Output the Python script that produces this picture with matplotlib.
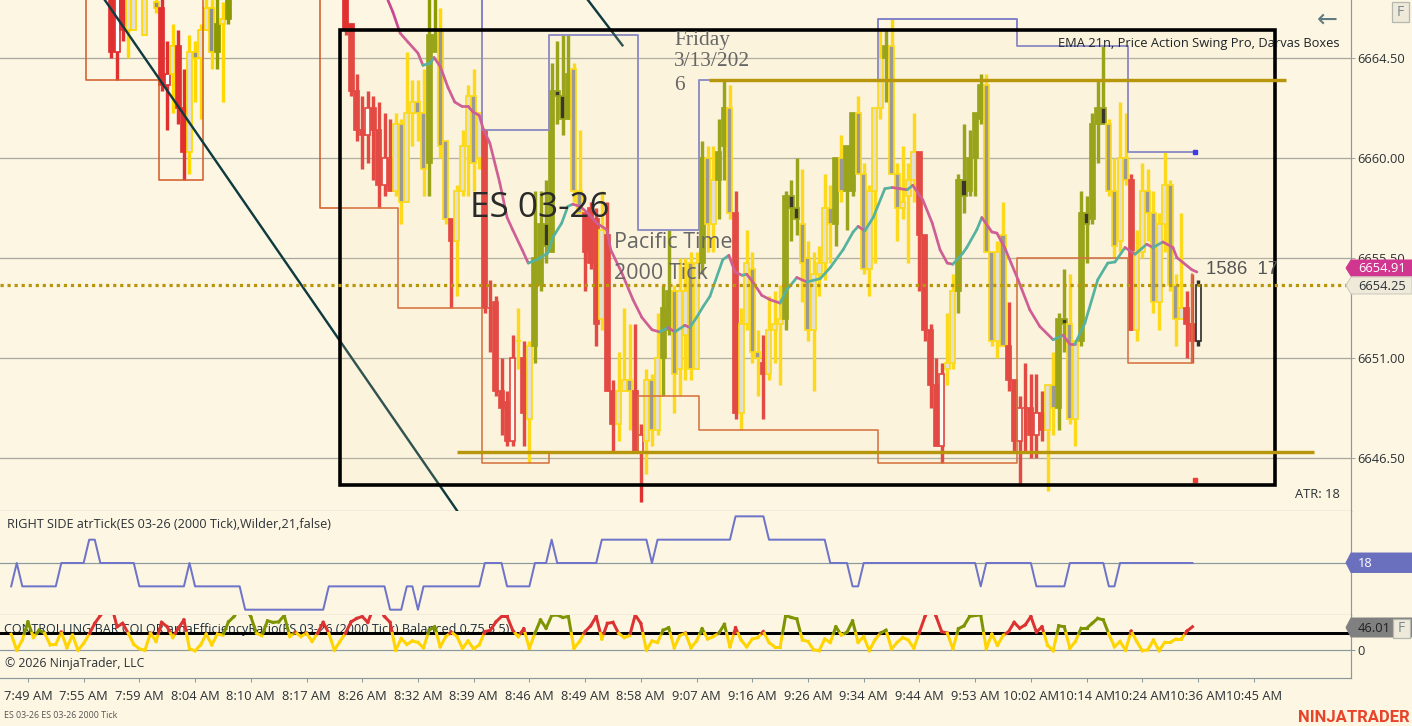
import numpy as np
import matplotlib
matplotlib.use('Agg')
import matplotlib.pyplot as plt
from matplotlib.patches import Polygon, Rectangle

W, H = 1412, 726
PRICE_BASE = 6640

# candles: prices are offsets from PRICE_BASE, 28 means above the visible range
bar_idx = [15, 16, 17, 18, 19, 21, 23, 24, 25, 26, 27, 28, 29, 30, 31, 32, 33, 34, 35, 36] + list(range(57, 211))
bar_kind = ("RHRYYYDRHYRRYDYYDGYG"
            "RRRRHRRHRY" "DYYDDGGDDR" "YYYDYRRRRR" "HYRYGGBGBB" "GDDRRRYRRY"
            "YDRHYDYGGD" "YYDYGDYGGD" "RYYDDRYYYG" "BBDDYYYDGD" "GGDDYYYGDD"
            "YYYRRRRHYY" "GBGGGDDYDR" "RHRRHRYDGB" "DYGBGGBDDY" "DRYYDDYYDD" "YRRK")
bar_high = [28, 28, 28, 28, 28, 28, 28, 28, 25.25, 26, 25.75, 24, 25.5, 25.25, 26, 28, 28, 28, 27, 28,
            28, 26, 23.75, 22.75, 23, 22.75, 22.5, 22, 21.75, 22,
            21.75, 24.75, 23.5, 23.5, 24, 28, 28, 26.75, 20.75, 17.25,
            18.75, 21.25, 23.25, 24, 22, 21.25, 14.5, 13.75, 11, 9.5,
            12, 13.25, 11.75, 11.75, 18.5, 18.5, 19, 24.25, 25.25, 25.5,
            25.5, 24.25, 21.25, 17.5, 18, 17.75, 18.5, 18, 10, 11.25,
            13.25, 12.5, 12.5, 8, 10.5, 10.25, 13, 14.25, 16.75, 14.25,
            15.5, 15.5, 15.75, 15.75, 20.75, 20.5, 20.5, 21.75, 23.5, 23.25,
            18.5, 13.25, 16.75, 15.75, 12.25, 12, 13.75, 14, 14.25, 18.5,
            19, 20, 19.5, 16.25, 15.75, 16, 19.25, 18.75, 20, 21,
            20.5, 22, 22.75, 19.75, 18.75, 22.25, 25.75, 25.75, 26.25, 19.75,
            20.5, 19.75, 22, 20.25, 16.5, 12.5, 11, 10.75, 13, 14.75,
            19.25, 21.5, 21.25, 22, 23.75, 23.75, 15.75, 16.25, 18, 13.5,
            10, 9.25, 10.75, 10.25, 10.25, 9.5, 9.75, 11.25, 13, 15,
            14.75, 11.75, 18.5, 18.25, 22, 23.5, 25, 21.75, 20, 22.5,
            22, 19.25, 16.75, 19.75, 19.5, 18.5, 17.5, 20.25, 19, 14.75,
            17.5, 14, 14.75, 14.5]
bar_top = [28, 28, 28, 28, 28, 28, 27, 26.75, 23.75, 25, 25, 22.25, 24.75, 24.75, 25.75, 26.75, 26.75, 26, 26.25, 28,
           28, 26, 23, 21.25, 22.25, 22.25, 21.25, 20, 20, 21.5,
           21.5, 22, 22.5, 22.5, 22, 25.5, 25.5, 25.75, 20.75, 17.25,
           18.5, 20.5, 22.75, 22.75, 22, 21.25, 13.25, 13.5, 9.5, 9,
           11, 11.75, 11, 11.5, 15.5, 17, 17, 23, 23, 22.75,
           23.75, 24, 18.5, 17.5, 17.75, 17.25, 16.75, 16.5, 9.5, 9.5,
           10, 10, 9.5, 7.5, 10, 10, 11, 13.25, 14, 14,
           14, 14, 15.25, 15.25, 20, 20, 19, 20.25, 22.25, 22.25,
           17.5, 12.5, 15.25, 15, 11.25, 10.75, 12.25, 12.5, 12.75, 18.25,
           18.25, 17.75, 17, 15.5, 14.75, 15.25, 17.75, 17.75, 20, 20,
           20.5, 22, 22, 19.25, 18.5, 22.25, 24.5, 25, 25, 19.25,
           18, 19, 20.25, 20.25, 16.5, 12.25, 9.75, 10.25, 10.75, 14,
           19, 19, 20, 22, 23.25, 23.25, 15.75, 15.75, 16.5, 11.5,
           10, 8.75, 8.75, 8.75, 8.5, 8.5, 9.75, 9.75, 12.75, 12.75,
           12.5, 11.75, 17.5, 17.5, 21.5, 22.25, 22.25, 21.5, 18.5, 20,
           20, 19, 15.75, 18.5, 18.5, 17.5, 17, 18.75, 18.75, 14.25,
           13.25, 13.25, 12.5, 14.25]
bar_bot = [24.75, 24.75, 25.75, 25.75, 25.75, 25.5, 26.75, 23.25, 23.25, 23.75, 22.25, 20.25, 20.25, 24.5, 24.5, 25.75, 24.75, 24.75, 26, 26.25,
           25.75, 23, 21.25, 21, 21, 21.25, 18.75, 18.75, 18.5, 18.5,
           18, 18, 22, 22, 19.5, 19.75, 24.75, 20.5, 17.25, 16.25,
           16.25, 18.5, 20.5, 19.75, 20, 13.25, 13.25, 9.5, 8.75, 7.25,
           7.25, 11.75, 8.5, 8.25, 11.5, 14.25, 16, 15.75, 22.75, 21.75,
           21.75, 18.5, 17.5, 15.75, 15.25, 12.5, 12.75, 9.5, 8, 8,
           9.5, 9.5, 6.75, 6.75, 7.25, 7.75, 7.75, 11, 12.25, 10.25,
           10.5, 12, 10.5, 10.5, 15.25, 17, 17, 19, 20.5, 17.5,
           8.5, 8.5, 12.5, 11.25, 11, 10.25, 10.25, 12.25, 12.5, 12.75,
           17.75, 17.25, 15.25, 12.25, 12.25, 14.75, 15.25, 17, 17, 18.5,
           18.5, 18.5, 19.25, 15, 15, 18.5, 22.25, 24.5, 19.25, 17.75,
           17.75, 18.25, 19, 16.5, 12.25, 9.75, 7, 7, 10.5, 10.75,
           14, 18.25, 18.5, 20, 21.75, 15.75, 11.75, 11.75, 11.5, 10,
           7.25, 7.25, 8.75, 7.5, 7.5, 7.75, 7.75, 8.75, 8.75, 12.5,
           8.25, 8.25, 11.75, 17, 17.25, 21.5, 21.5, 18.5, 16, 16.25,
           19, 12.25, 12.25, 15.75, 17.5, 13.5, 13.5, 17, 14.25, 12.75,
           12.75, 12.5, 11.75, 11.75]
bar_low = [24.5, 23.5, 25.25, 24.5, 25.75, 25.5, 26.5, 23, 21.25, 22, 21.5, 19, 19.25, 22.5, 21.75, 25.75, 24, 24, 22.5, 26,
           25.5, 22.75, 20.75, 19.5, 19.75, 19, 17.75, 18.25, 18.5, 18.25,
           17, 18, 20.5, 20.75, 18.25, 18.25, 24.75, 20, 17, 13.25,
           13.75, 18.25, 18.25, 18.5, 19.5, 13, 11.25, 9.25, 7.5, 7,
           7, 10.5, 7, 6.25, 10.75, 14, 15.25, 15.75, 21.5, 21,
           21.75, 18, 17.5, 14, 15, 11.5, 12.25, 9.5, 6.75, 7.25,
           9.5, 7.75, 6.75, 4.5, 5.75, 7, 7.5, 9.25, 12, 8.5,
           9.25, 10, 10, 10.5, 14.75, 15.75, 15.75, 17.25, 19, 17.25,
           8.25, 7.75, 12.25, 10.75, 9.25, 8.25, 10, 10.75, 9.75, 12.25,
           16.25, 16.5, 13.5, 11.75, 9.5, 13.75, 14.5, 15.25, 16, 18,
           16.75, 18.25, 19.25, 14.75, 13.75, 15.25, 21.75, 22.5, 19.25, 16.25,
           17.25, 15.25, 18, 14, 11.75, 8.75, 7, 6.25, 9.75, 10.5,
           13, 17.5, 18.25, 18.25, 21.5, 15.75, 11.5, 11, 11.5, 9.5,
           6.75, 5.25, 6.75, 6.5, 6.5, 7.25, 5, 7.5, 7.75, 11.25,
           8, 7, 11.5, 15.25, 17, 19.75, 21.5, 18.25, 15.5, 15.75,
           18.75, 12.25, 11.75, 15.5, 16.25, 13, 12.25, 15.75, 14, 11.5,
           12.75, 11, 10.75, 11.5]
assert len(bar_idx) == len(bar_kind) == len(bar_high) == len(bar_top) == len(bar_bot) == len(bar_low)

ema_bars = [64.6, 65.5, 66.8, 68.2, 70, 70.9, 72.2, 72.9, 74, 75.4, 76.6, 77.9, 79, 79.9, 81, 81.7, 82.9, 84.7,
            86, 87, 88.7, 89.8, 91.4, 93.3, 94.2, 95.8, 96.9, 97.8, 99.1, 100.5, 102.1, 103.9, 104.6, 106.6,
            108.6, 110.2, 112, 113.4, 114.9, 116.1, 117.9, 118.8, 120, 121.2, 122.4, 124.7, 125.8, 126.9,
            128.2, 129, 130.1, 131.7, 133.2, 135, 136.2, 138, 139.8, 142.2, 144, 146.3, 148.1, 149, 150.2,
            151.7, 153.8, 155.1, 156.5, 157.8, 158.8, 160.6, 162.3, 163.7, 165, 166, 167.8, 168.5, 170.3,
            171.2, 173, 173.9, 175.3, 177.7, 179.8, 181.6, 184, 185.8, 187, 187.9, 189.7, 192, 193.8, 195.1,
            196.9, 198.7, 200.8, 201.9, 203.7, 205.5, 206.2, 208.9, 209.8]
ema_vals = [27.09, 26.55, 25.6, 25.2, 24.7, 24.15, 24.25, 24.5, 24.1, 23.15, 22.5, 22.3, 22.3, 22.05, 21.9, 21.3, 20.65, 18.85,
            17.3, 16.75, 15.85, 15.25, 15.4, 15.7, 16.4, 17.05, 17.8, 17.9, 17.8, 17.5, 17.05, 16.75, 15.85, 14.8,
            13.6, 12.8, 12.25, 12.15, 12.35, 12.15, 12.45, 12.35, 12.8, 13.3, 13.75, 15.4, 15.6, 14.85,
            14.7, 14.75, 14.4, 13.8, 13.6, 13.45, 14.05, 14.6, 14.4, 14.55, 15.05, 15.85, 16.65, 16.9, 16.7,
            17.3, 18.6, 18.65, 18.6, 18.55, 18.75, 18.1, 17.05, 15.85, 15.25, 15.2, 15.7, 15.95, 16.75,
            17.3, 16.65, 16.6, 15.95, 14.5, 13.15, 12.4, 11.8, 12, 11.6, 11.6, 12.55, 14.5, 15.25, 15.3,
            15.95, 15.65, 16.1, 15.95, 16.2, 15.95, 15.5, 14.95, 14.85]

# darvas boxes and swing line, as (bar, price offset) corners
darvas_a_x = [10.5, 10.5, 23.5, 23.5, 31.5, 31.5]
darvas_a_y = [28, 23.5, 23.5, 19, 19, 28]
darvas_b_x = [52.5, 52.5, 66.5, 66.5, 81.5, 81.5, 93.5, 93.5]
darvas_b_y = [28, 17.75, 17.75, 13.25, 13.25, 6.25, 6.25, 6.75]
darvas_c_x = [109.5, 109.5, 120.5, 120.5, 152.5, 152.5, 177.5, 177.5, 197.5, 197.5, 209, 209]
darvas_c_y = [6.75, 9.25, 9.25, 7.75, 7.75, 6.25, 6.25, 15.5, 15.5, 10.75, 10.75, 14.75]
swing_x = [81.5, 81.5, 93.5, 93.5, 109.5, 109.5, 120.5, 120.5, 152.5, 152.5, 177.5, 177.5, 197.5, 197.5, 209]
swing_y = [28, 21.25, 21.25, 25.5, 25.5, 16.75, 16.75, 23.5, 23.5, 26.25, 26.25, 25, 25, 20.25, 20.25]

atr_bars = [-3, -2, -1, 5, 6, 10, 11, 12, 13, 19, 20, 28, 29, 30, 38, 39, 53, 54, 64, 65, 67, 68, 69, 70, 71, 81, 82, 85, 86,
            90, 91, 93, 94, 95, 102, 103, 111, 112, 113, 126, 127, 132, 133, 143, 144, 147, 148, 149, 150, 170, 171, 172,
            180, 181, 186, 187, 193, 194, 195, 196, 209]
atr_vals = [17, 18, 17, 17, 18, 18, 19, 19, 18, 18, 17, 17, 18, 17, 17, 16, 16, 17, 17, 16, 16, 17, 17, 16, 17, 17, 18, 18, 17,
            17, 18, 18, 19, 18, 18, 19, 19, 18, 19, 19, 20, 20, 19, 19, 18, 18, 17, 17, 18, 18, 17, 18,
            18, 17, 17, 18, 18, 17, 17, 18, 18]

er_first_bar = -3
er_vals = [33, 0, 21, 58, 26, 41, 35, 11, 12, 37, 5, 31, 0, 14, 33, 55, 71, 86, 92, 48, 55, 35, 12, 3, 0, 35, 18, 57, 48, 26,
           45, 62, 3, -1, 11, 33, 11, 33, 31, 58, 69, 86, 86, 69, 35, 30, 60, 57, 58, 71, 28, 37, 28, 35, 18, 35, 57, 35, 0, 18,
           35, 58, 65, 69, 57, 86, 86, 69, 57, 0, 24, 12, 19, 16, 5, 41, 48, 7, 28, 37, 28, 4, 19, 3, 11, 38, 41, 58, 69, 69,
           41, 28, 44, 4, 35, 62, 45, 71, 72, 67, 69, 4, 18, 38, 50, 69, 23, 55, 57, 35, 26, 30, 72, 55, 0, 19, 16, 41, 46, 5,
           30, 35, 5, 19, 44, 23, 28, 35, 53, 7, 46, 21, 7, 23, 26, 38, 16, 7, 7, 71, 67, 64, 21, 18, 1, -1, 23, 16, 48, 31,
           37, 60, 16, 28, -1, 21, 35, 41, 3, 16, 26, 21, 4, 37, 69, 92, 69, 38, 35, 3, 44, 50, 69, 71, 72, 3, 33, 10, 30, 38,
           57, 45, 52, 69, 37, 48, 10, -1, 50, 48, 4, 18, 45, 45, 55, 65, 62, 33, 7, 18, 0, 39, 18, -1, 1, 21, -1, 16, 16, 23,
           23, 39, 48]
er_olive_bars = [-1, 0, 1, 2, 3, 36, 37, 38, 39, 40, 41, 42, 43, 44, 45, 46, 47, 72, 73, 91, 92, 93, 94, 95, 96, 97, 114, 115,
                 121, 125, 136, 137, 138, 139, 145, 146, 147, 148, 154, 167, 168, 169, 170, 171, 185, 186, 189, 190, 191, 192, 193]
er_line = 34.6

price_ticks = [6664.5, 6660.0, 6655.5, 6651.0, 6646.5]
time_labels = ['7:49 AM', '7:55 AM', '7:59 AM', '8:04 AM', '8:10 AM', '8:17 AM', '8:26 AM', '8:32 AM', '8:39 AM', '8:46 AM',
               '8:49 AM', '8:58 AM', '9:07 AM', '9:16 AM', '9:26 AM', '9:34 AM', '9:44 AM', '9:53 AM', '10:02 AM', '10:14 AM',
               '10:24 AM', '10:36 AM', '10:45 AM']

BG = '#FDF6E3'
RED, OLIVE, YELLOW = '#E13030', '#8B9A00', '#FFD800'
GRID = '#A9A9A0'
AXIS = '#8A9A9C'
GOLD = '#B8960C'
TXT = '#2B3135'
PX = 0.72  # one pixel in points at dpi 100

plt.rcParams['font.family'] = ['Open Sans', 'DejaVu Sans']


def fx(x, y):
    return x / W, 1 - y / H


fig = plt.figure(figsize=(W / 100, H / 100), dpi=100, facecolor=BG)
right = 1351 / W
ax = fig.add_axes([0, 1 - 510.5 / H, right, 510.5 / H])
ax2 = fig.add_axes([0, 1 - 615.3 / H, right, 104.8 / H], sharex=ax)
ax3 = fig.add_axes([0, 1 - 678.3 / H, right, 63 / H], sharex=ax)

xlim = (-27.9 / 5.572, (1351 - 27.9) / 5.572)
for a in (ax, ax2, ax3):
    a.set_facecolor(BG)
    a.set_xlim(*xlim)
    a.spines['left'].set_visible(False)
    a.spines['top'].set_visible(False)
    for s in ('right', 'bottom'):
        a.spines[s].set_color(AXIS)
        a.spines[s].set_linewidth(1.2 * PX)
    a.tick_params(axis='x', which='both', bottom=False, labelbottom=False)

# main price panel
ax.set_ylim(6644.115, 6667.09)
ax.yaxis.tick_right()
ax.set_yticks(price_ticks)
ax.set_yticklabels(['%.2f' % p for p in price_ticks], fontsize=9.3, color=TXT)
ax.tick_params(axis='y', length=3.2, width=1 * PX, color=GRID, pad=1.5)
ax.grid(axis='y', color=GRID, lw=1.3 * PX, zorder=0)
ax.set_axisbelow(True)

fill = {'R': RED, 'H': 'white', 'G': OLIVE, 'B': '#1A1A14', 'Y': '#E2E0D6', 'D': '#8E8E8A', 'K': 'white'}
edge = {'R': RED, 'H': RED, 'G': OLIVE, 'B': OLIVE, 'Y': YELLOW, 'D': YELLOW, 'K': '#111111'}

for b, k, hi, t, bt, lo in zip(bar_idx, bar_kind, bar_high, bar_top, bar_bot, bar_low):
    ax.vlines(b, PRICE_BASE + lo, PRICE_BASE + hi, color=edge[k], lw=3.4 * PX, zorder=3)
    ax.bar(b, t - bt, bottom=PRICE_BASE + bt, width=0.9, color=fill[k], edgecolor=edge[k], linewidth=1.7 * PX, zorder=3)

for xs, ys in ((darvas_a_x, darvas_a_y), (darvas_b_x, darvas_b_y), (darvas_c_x, darvas_c_y)):
    ax.plot(xs, np.array(ys) + PRICE_BASE, color='#D2602D', lw=1.6 * PX, zorder=4)
ax.plot(swing_x, np.array(swing_y) + PRICE_BASE, color='#7F7FC8', lw=1.9 * PX, zorder=4)
ax.plot([209.4], [PRICE_BASE + 20.25], marker='s', ms=3.2, color='#2020F0', zorder=6)
ax.plot([209.4], [PRICE_BASE + 5.5], marker='s', ms=3.2, color='#F02020', zorder=6)

# ema: magenta while falling, teal while rising
for i in range(len(ema_bars) - 1):
    falling = ema_vals[i + 1] <= ema_vals[i]
    ax.plot(ema_bars[i:i + 2], np.array(ema_vals[i:i + 2]) + PRICE_BASE,
            color='#C9478F' if falling else '#3BAA9C', lw=2.7 * PX, zorder=4, solid_capstyle='round')

# trend lines
ax.plot([13.8, 77], [6667.09, 6644.115], color='#0F3A3F', lw=2.4 * PX, zorder=5)
ax.plot([100.5, 106.7], [6667.09, 6665.05], color='#0F3A3F', lw=2.4 * PX, zorder=5)

# translucent rectangle with black frame
ax.add_patch(Rectangle((56, 6645.28), 167.9, 20.47, facecolor='#F0E2B4', alpha=0.15, edgecolor='none', zorder=7))
ax.add_patch(Rectangle((56, 6645.28), 167.9, 20.47, facecolor='none', edgecolor='black', lw=3.6 * PX, zorder=8))

ax.plot([122.3, 225.7], [6663.5, 6663.5], color=GOLD, lw=3.4 * PX, zorder=9, solid_capstyle='butt')
ax.plot([77, 230.8], [6646.75, 6646.75], color=GOLD, lw=3.4 * PX, zorder=9, solid_capstyle='butt')
ax.axhline(6654.25, color=GOLD, lw=3.2 * PX, ls=(0, (1, 1.2)), zorder=9)

# atr panel
ax2.set_ylim(15.76, 20.25)
ax2.set_yticks([18])
ax2.tick_params(axis='y', left=False, labelleft=False, right=False)
ax2.grid(axis='y', color=AXIS, lw=1.2 * PX, zorder=0)
ax2.set_axisbelow(True)
ax2.plot(atr_bars, atr_vals, color='#6E74C8', lw=2 * PX, zorder=3)

# efficiency ratio panel
ax3.set_ylim(-57.2, 71.4)
ax3.set_yticks([0])
ax3.yaxis.tick_right()
ax3.set_yticklabels(['0'], fontsize=9.3, color=TXT)
ax3.tick_params(axis='y', length=3.2, width=1 * PX, color=AXIS, pad=1.5)
ax3.grid(axis='y', color=AXIS, lw=1.2 * PX, zorder=0)
ax3.set_axisbelow(True)
ax3.axhline(er_line, color='black', lw=3 * PX, zorder=4)

for i in range(len(er_vals) - 1):
    b0, v0, v1 = er_first_bar + i, er_vals[i], er_vals[i + 1]
    up_color = '#7E9400' if (b0 in er_olive_bars or b0 + 1 in er_olive_bars) else '#DC3232'
    if v0 <= er_line and v1 <= er_line:
        ax3.plot([b0, b0 + 1], [v0, v1], color='#FFD400', lw=3 * PX, zorder=5)
    elif v0 > er_line and v1 > er_line:
        ax3.plot([b0, b0 + 1], [v0, v1], color=up_color, lw=3 * PX, zorder=5)
    else:
        cross = b0 + (er_line - v0) / (v1 - v0)
        ax3.plot([b0, cross], [v0, er_line], color=up_color if v0 > er_line else '#FFD400', lw=3 * PX, zorder=5)
        ax3.plot([cross, b0 + 1], [er_line, v1], color=up_color if v1 > er_line else '#FFD400', lw=3 * PX, zorder=5)

tick_bars = [10 * i for i in range(len(time_labels))]
ax3.set_xticks(tick_bars)
ax3.set_xticklabels(time_labels, fontsize=9.3, color=TXT)
ax3.tick_params(axis='x', which='both', bottom=True, labelbottom=True, length=3.2, width=1 * PX, color=AXIS, pad=5.5)

# texts
fig.text(*fx(674, 41), 'Friday', family='Liberation Serif', fontsize=15.4, color='#666666', va='center')
fig.text(*fx(674, 62), '3/13/202', family='Liberation Serif', fontsize=15.4, color='#666666', va='center')
fig.text(*fx(674, 85), '6', family='Liberation Serif', fontsize=15.4, color='#666666', va='center')
fig.text(*fx(470, 208), 'ES 03-26', fontsize=25.3, color='#2A2A2A', va='center')
fig.text(*fx(614, 243), 'Pacific Time', fontsize=15.5, color='#666666', va='center')
fig.text(*fx(614, 274), '2000 Tick', fontsize=15.5, color='#666666', va='center')
fig.text(*fx(1340, 44), 'EMA 21n, Price Action Swing Pro, Darvas Boxes', fontsize=9.3, color='#1C2226', va='center', ha='right')
fig.text(*fx(1206, 269), '1586  17', family='Liberation Sans', fontsize=13.3, color='#555555', va='center')
fig.text(*fx(1340, 494), 'ATR: 18', fontsize=9.3, color=TXT, va='center', ha='right')
fig.text(*fx(1327, 20), '←', family='DejaVu Sans', fontsize=18, color='#5F7A80', va='center', ha='center')
fig.text(*fx(7, 524), 'RIGHT SIDE atrTick(ES 03-26 (2000 Tick),Wilder,21,false)', fontsize=9.1, color=TXT, va='center')
fig.text(*fx(5, 663), '© 2026 NinjaTrader, LLC', fontsize=8.8, color=TXT, va='center')
fig.text(*fx(4, 716), 'ES 03-26 ES 03-26 2000 Tick', fontsize=6.4, color='#555555', va='center')
fig.text(*fx(1410, 717), 'NINJATRADER', family='Roboto', fontweight='bold', fontsize=12, color='#E8442A', va='center', ha='right')
ax3.text(4 / W, 1 - 629 / H, 'CONTROLLING BAR COLOR amaEfficiencyRatio(ES 03-26 (2000 Tick) Balanced 0.75,5,5)',
         transform=fig.transFigure, fontsize=9.05, color='#1C2E3A', va='center', zorder=1, clip_on=False)


# price tags on the right edge
def tag(y0, y1, face, edge_c, label, color):
    mid = (y0 + y1) / 2
    pts = [fx(1351, y0), fx(1412, y0), fx(1412, y1), fx(1351, y1), fx(1346, mid)]
    fig.add_artist(Polygon(pts, closed=True, transform=fig.transFigure, facecolor=face, edgecolor=edge_c, lw=0.7, zorder=4))
    fig.text(*fx(1358, mid + 0.5), label, fontsize=9.3, color=color, va='center', zorder=5)


tag(260, 276, '#D0368F', '#D0368F', '6654.91', 'white')
tag(277, 294, '#EFE9DA', '#C8C8BC', '6654.25', TXT)
tag(553, 572.5, '#6B70BE', '#6B70BE', '18', 'white')
tag(618, 637, '#808080', '#808080', '46.01', '#222222')


def f_button(x0, y0, x1, y1):
    fig.add_artist(Rectangle(fx(x0, y1), (x1 - x0) / W, (y1 - y0) / H, transform=fig.transFigure,
                             facecolor='#EFE9DA', edgecolor='#B4B8AE', lw=0.9, zorder=6))
    fig.text(*fx((x0 + x1) / 2, (y0 + y1) / 2), 'F', fontsize=10, color='#7A8A90', va='center', ha='center', zorder=7)


f_button(1392, 2, 1409, 22)
f_button(1393, 619, 1410, 638)

fig.savefig('out.png', dpi=100, facecolor=BG)
